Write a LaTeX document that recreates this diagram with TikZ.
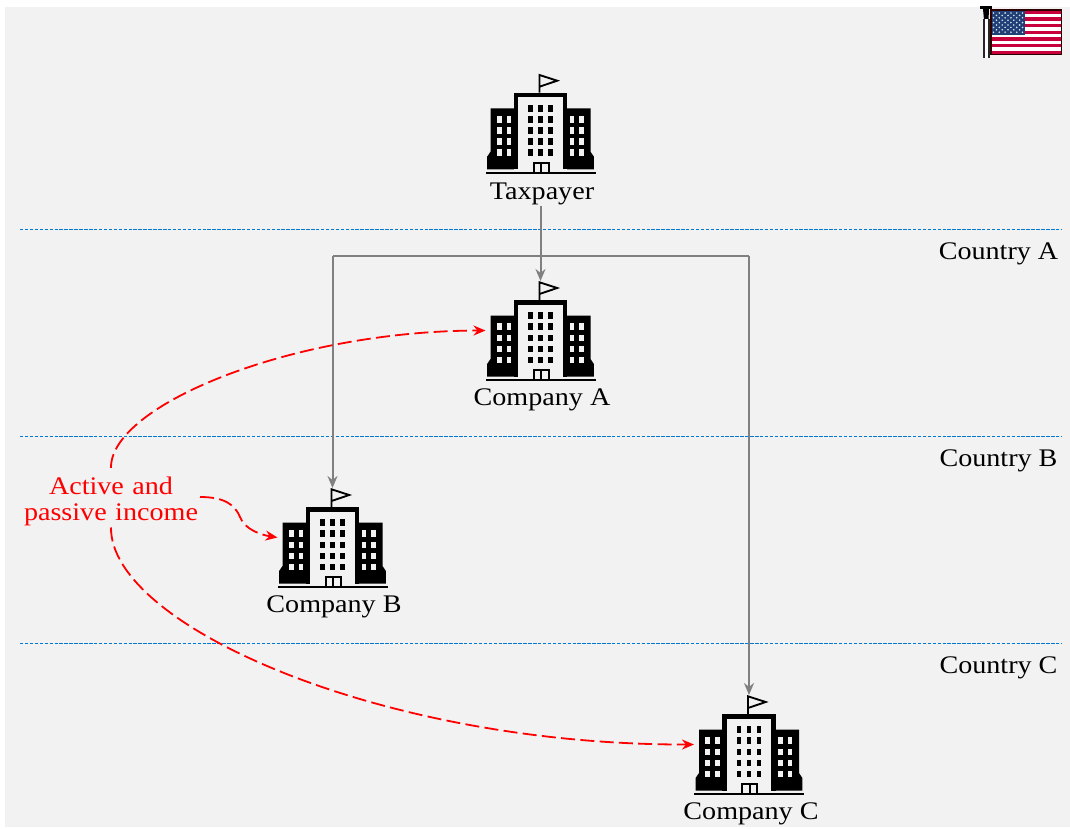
\documentclass[tikz,border=0pt]{standalone}
\usepackage{fontspec}
\setmainfont[FakeStretch=1.11]{Liberation Serif}
\usetikzlibrary{arrows.meta}
\definecolor{panel}{HTML}{F2F2F2}
\definecolor{sep}{HTML}{0078D4}
\definecolor{link}{HTML}{808080}
\definecolor{usred}{HTML}{C8003C}
\definecolor{usblue}{HTML}{1F3F77}
\tikzset{
  bldg/.style={minimum width=110*0.75pt,minimum height=99*0.75pt,inner sep=0pt,outer sep=0pt},
  lbl/.style={font=\fontsize{19}{19}\selectfont,text=black,inner sep=0pt,outer sep=0pt,text height=14pt,text depth=5pt},
  sepline/.style={draw=sep,line width=0.9pt,dash pattern=on 2.6pt off 1.1pt},
  own/.style={draw=link,line width=1.5pt,-{Stealth[length=9pt,width=7.5pt]}},
  bus/.style={draw=link,line width=1.5pt},
  income/.style={draw=red,line width=1.35pt,dash pattern=on 10.5pt off 4pt,-{Stealth[length=9pt,width=7.5pt]}},
  building/.pic={
    % wings
    \fill[black] (-50,-64.4) -- (-26.7,-64.4) -- (-26.7,-3.4) -- (-53.4,-3.4) -- (-53.4,-16) -- (-50,-21) -- cycle;
    \fill[black] (50,-64.4) -- (26.7,-64.4) -- (26.7,-3.4) -- (53.4,-3.4) -- (53.4,-16) -- (50,-21) -- cycle;
    % tower
    \fill[black] (-26.7,-80) rectangle (26.7,-3.4);
    \fill[panel] (-22.2,-75.4) rectangle (22.2,0);
    % base line
    \fill[black] (-55,-1) rectangle (55,1);
    % windows
    \foreach \r in {-56.7,-45.4,-34.4,-23.4}{
      \foreach \c in {-43.7,-34,29,38.6}{
        \fill[panel] (\c,\r) rectangle ++(4.8,6.7);
      }
    }
    \foreach \r in {-67.7,-56.7,-45.4,-34.4,-23.4}{
      \foreach \c in {-12.4,-2.4,7.6}{
        \fill[black] (\c,\r) rectangle ++(4.8,6.7);
      }
    }
    % door
    \draw[black,line width=1.3pt] (-6.7,-10) rectangle (8.3,0) (0.8,-10) -- (0.8,0);
    % flag
    \draw[black,line width=1.4pt,fill=panel,line join=miter] (-1,-80) -- (-1,-97.7) -- (16.7,-92) -- (-1,-86);
  }
}
\begin{document}
\begin{tikzpicture}[x=0.75pt,y=-0.75pt]
\useasboundingbox (0,0) rectangle (1070,828);
\fill[white] (0,0) rectangle (1070,828);
\fill[panel] (5,7) rectangle (1070,827);

% separators
\coordinate (s1l) at (20,229.5); \coordinate (s1r) at (1062,229.5);
\coordinate (s2l) at (20,436.5); \coordinate (s2r) at (1062,436.5);
\coordinate (s3l) at (20,643.5); \coordinate (s3r) at (1062,643.5);
\draw[sepline] (s1l) -- (s1r);
\draw[sepline] (s2l) -- (s2r);
\draw[sepline] (s3l) -- (s3r);

\node[lbl] (ca) at (998.5,253.5) {Country A};
\node[lbl] (cb) at (998.5,460.5) {Country B};
\node[lbl] (cc) at (998.5,667.5) {Country C};

% flag
\fill[black] (980.3,6) rectangle (991.7,9);
\fill[black] (983,9) -- (989,9) -- (988.5,20) -- (984,20) -- cycle;
\fill[white] (984.5,19) rectangle (989.5,58);
\draw[black!85,line width=0.9pt] (984,19) -- (984,58) (989,19) -- (989,58);
\fill[white] (991,10.5) rectangle (1061.5,54);
\foreach \i in {0,2,4,6,8,10,12}{
  \fill[usred] (991,{10.5+\i*43.5/13}) rectangle (1061.5,{10.5+(\i+1)*43.5/13});
}
\fill[usblue] (991,10.5) rectangle (1025,34.5);
\foreach \i in {0,...,5}{\foreach \j in {0,...,4}{
  \fill[white!85!usblue] ({993.5+\i*5.8},{13+\j*4.8}) circle (0.9);
}}
\foreach \i in {0,...,4}{\foreach \j in {0,...,3}{
  \fill[white!85!usblue] ({996.4+\i*5.8},{15.4+\j*4.8}) circle (0.9);
}}
\draw[black!70!red!60!black,line width=0.9pt] (991,10) rectangle (1061.5,54.3);

% buildings
\node[bldg] (tp) at (540.5,123.2) {};
\node[bldg] (ba) at (540.5,330.5) {};
\node[bldg] (bb) at (332.5,537.5) {};
\node[bldg] (bc) at (749,744.5) {};
\pic at (540.5,172.7) {building};
\pic at (540.5,380) {building};
\pic at (332.5,587) {building};
\pic at (749,794) {building};

\node[lbl] (tpl) at (542,193.5) {Taxpayer};
\node[lbl] (bal) at (542,399.5) {Company A};
\node[lbl] (bbl) at (334,606.5) {Company B};
\node[lbl] (bcl) at (751,813.5) {Company C};

% ownership
\coordinate (busy) at (0,255.5);
\draw[own] (tpl.south -| ba.north) -- (ba.north);
\draw[bus] (bb.north |- busy) -- (bc.north |- busy);
\draw[own] (bb.north |- busy) -- (bb.north);
\draw[own] (bc.north |- busy) -- (bc.north);

% income
\node[font=\fontsize{19}{19.5}\selectfont,text=red,align=center,inner sep=0pt,outer sep=0pt,text width=180*0.75pt] (inc) at (111,501) {Active and\\passive income};
\draw[income] ([yshift=6.5pt]inc.north) .. controls (110,406) and (290,331) .. (ba.west);
\draw[income] ([yshift=-1.5pt]inc.south) .. controls (110,625) and (380,745) .. (bc.west);
\draw[income] (200,497) .. controls (225,497) and (235,505) .. (240,517) .. controls (245,530) and (262,535) .. (bb.west);
\end{tikzpicture}
\end{document}
